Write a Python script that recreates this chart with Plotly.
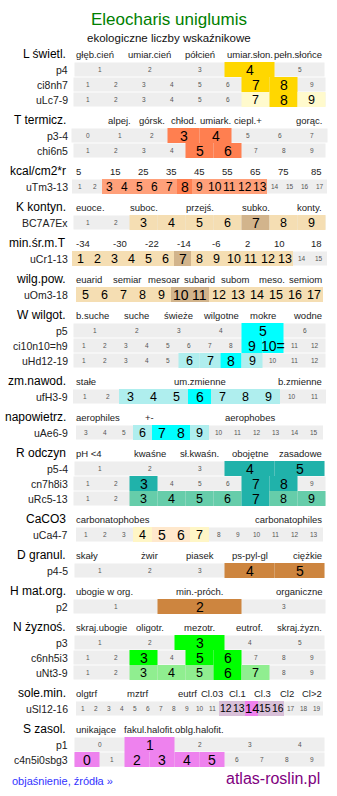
import plotly.graph_objects as go

W, H = 337, 796

title = "Eleocharis uniglumis"
subtitle = "ekologiczne liczby wskaźnikowe"
footer_left = "objaśnienie, źródła »"
footer_right = "atlas-roslin.pl"

# ---- sections: header text, scale labels, slot of each label, number of slots, number of rows
section_titles = ["L świetl.", "T termicz.", "kcal/cm2*r", "K kontyn.", "min.śr.m.T",
                  "wilg.pow.", "W wilgot.", "zm.nawod.", "napowietrz.", "R odczyn",
                  "CaCO3", "D granul.", "H mat.org.", "N żyznoś.", "sole.min.", "S zasol."]
section_scale = [
    ["głęb.cień", "umiar.cień", "półcień", "umiar.słon.", "pełn.słońce"],
    ["alpej.", "górsk.", "chłod.", "umiark.", "ciepl.+", "gorąc."],
    ["5", "15", "25", "35", "45", "55", "65", "75", "85"],
    ["euoce.", "suboc.", "przejś.", "subko.", "konty."],
    ["-34", "-30", "-22", "-14", "-6", "2", "10", "18"],
    ["euarid", "semiar", "mesoar", "subarid", "subom", "meso.", "semiom"],
    ["b.suche", "suche", "świeże", "wilgotne", "mokre", "wodne"],
    ["stałe", "um.zmienne", "b.zmienne"],
    ["aerophiles", "+-", "aerophobes"],
    ["pH <4", "kwaśne", "sł.kwaśn.", "obojętne", "zasadowe"],
    ["carbonatophobes", "carbonatophiles"],
    ["skały", "żwir", "piasek", "ps-pyl-gl", "ciężkie"],
    ["ubogie w org.", "min.-próch.", "organiczne"],
    ["skraj.ubogie", "oligotr.", "mezotr.", "eutrof.", "skraj.żyzn."],
    ["olgtrf", "mztrf", "eutrf", "Cl.03", "Cl.1", "Cl.3", "Cl2", "Cl>2"],
    ["unikające", "fakul.halofit.", "oblg.halofit."],
]
section_scale_slot = [
    [0, 1, 2, 3, 4],
    [1, 2, 3, 4, 5, 7],
    [0, 1, 2, 3, 4, 5, 6, 7, 8],
    [0, 2, 4, 6, 8],
    [0, 1, 2, 3, 4, 5, 6, 7],
    [0, 1, 2, 3, 4, 5, 6],
    [0, 1, 2, 3, 4, 5],
    [0, 1, 2],
    [0, 1, 3],
    [0, 1, 2, 3, 4],
    [0, 1],
    [0, 1, 2, 3, 4],
    [0, 1, 2],
    [0, 1, 2, 3, 4],
    [0, 2, 4, 5, 6, 7, 8, 9],
    [0, 1, 2],
]
section_scale_n = [5, 8, 9, 9, 8, 7, 6, 3, 5, 5, 2, 5, 3, 5, 10, 5]
section_rows = [3, 2, 1, 1, 1, 1, 3, 1, 1, 3, 1, 1, 1, 3, 1, 2]
section_main_color = ["#FFD700", "#FF7F50", "#FF7F50", "#D2B48C", "#D2B48C", "#D2B48C",
                      "#00FFFF", "#00FFFF", "#00FFFF", "#20B2AA", "#FFE8CC", "#CD853F",
                      "#CD853F", "#00FF00", "#EE82EE", "#EE82EE"]
section_side_color = ["#FFFACD", "#FFA07A", "#FFA07A", "#F5DEB3", "#F5DEB3", "#F5DEB3",
                      "#AFEEEE", "#AFEEEE", "#AFEEEE", "#66CDAA", "#FFF6C6", "#CD853F",
                      "#CD853F", "#90EE90", "#D8BFD8", "#D8BFD8"]


def nums(a, b):
    return [str(v) for v in range(a, b + 1)]


# ---- rows
row_names = ["p4", "ci8nh7", "uLc7-9", "p3-4", "chi6n5", "uTm3-13", "BC7A7Ex", "uCr1-13",
             "uOm3-18", "p5", "ci10n10=h9", "uHd12-19", "ufH3-9", "uAe6-9", "p5-4",
             "cn7h8i3", "uRc5-13", "uCa4-7", "p4-5", "p2", "p3", "c6nh5i3", "uNt3-9",
             "uSl12-16", "p1", "c4n5i0sbg3"]
row_cells = [nums(1, 5), nums(1, 9), nums(1, 9), nums(0, 7), nums(1, 9), nums(1, 17),
             nums(1, 9), nums(1, 15), nums(5, 17), nums(1, 6),
             nums(1, 9) + ["10="] + nums(11, 12), nums(1, 12), nums(1, 11), nums(3, 15),
             nums(1, 5), nums(1, 9), nums(1, 9), nums(1, 13), nums(1, 5), nums(1, 3),
             nums(1, 5), nums(1, 9), nums(1, 9), nums(1, 19), nums(0, 4), nums(0, 9)]
row_main = [["4"], ["7", "8"], ["8"], ["3", "4"], ["5", "6"], ["8"], ["7"], ["7"],
            ["10", "11"], ["5"], ["9", "10="], ["8"], ["6"], ["7", "8"], ["4", "5"],
            ["3", "7", "8"], ["7"], ["5", "6"], ["4", "5"], ["2"], ["3"], ["3", "5", "6"],
            ["6"], ["14"], ["1"], ["0", "2", "3", "4", "5"]]
row_side = [[], [], ["7", "9"], [], [], ["3", "4", "5", "6", "7", "9", "10", "11", "12", "13"],
            ["3", "4", "5", "6", "8", "9"],
            ["1", "2", "3", "4", "5", "6", "8", "9", "10", "11", "12", "13"],
            ["5", "6", "7", "8", "9", "12", "13", "14", "15", "16", "17"], [], [],
            ["6", "7", "9"], ["3", "4", "5", "7", "8", "9"], ["6", "9"], [], [],
            ["3", "4", "5", "6", "8", "9"], ["4", "7"], [], [], [], [], ["3", "4", "5", "7"],
            ["12", "13", "15", "16"], [], []]

# ---- layout constants (pixels)
GRID_L, GRID_R = 73.5, 325.5
CENTER = (GRID_L + GRID_R) / 2
FULL = GRID_R - GRID_L
FIRST_HEADER_Y = 54
HEAD_TO_ROW = 15.5
ROW_PITCH = 15
ROW_TO_HEAD = 20.5
FONT = "Liberation Sans, Arial, sans-serif"


def row_span(n):
    cw = round(FULL / n)
    w = cw * n
    return CENTER - w / 2, cw


shapes = []
annotations = []


def text(x, y, s, size, color, xanchor="center"):
    annotations.append(dict(x=x, y=y, xref="x", yref="y", text=s, showarrow=False,
                            xanchor=xanchor, yanchor="middle",
                            font=dict(family=FONT, size=size, color=color)))


def rect(x0, x1, y0, y1, color):
    shapes.append(dict(type="rect", xref="x", yref="y", x0=x0, x1=x1, y0=y0, y1=y1,
                       line=dict(width=0), fillcolor=color, layer="below"))


text(168.5, 19, title, 17, "#008000")
text(168.5, 38, subtitle, 11.5, "#111111")

y = FIRST_HEADER_Y
r = 0
for s, head in enumerate(section_titles):
    text(67.5, y, head, 12, "#000000", "right")
    n = section_scale_n[s]
    x0, cw = row_span(n)
    for lab, slot in zip(section_scale[s], section_scale_slot[s]):
        if slot == 0:
            text(74, y, lab, 9.5, "#222222", "left")
        elif slot == n - 1:
            text(323.5, y, lab, 9.5, "#222222", "right")
        else:
            text(x0 + (slot + 0.5) * cw, y, lab, 9.5, "#222222")
    ry = y + HEAD_TO_ROW
    for k in range(section_rows[s]):
        cells = row_cells[r]
        nc = len(cells)
        cx0, ccw = row_span(nc)
        rect(cx0, cx0 + nc * ccw, ry - 7, ry + 7, "#EEEEEE")
        text(70, ry, row_names[r], 10.5, "#222222", "right")
        for i, lab in enumerate(cells):
            xc = cx0 + (i + 0.5) * ccw
            if lab in row_main[r]:
                rect(cx0 + i * ccw, cx0 + (i + 1) * ccw, ry - 7.5, ry + 7.5, section_main_color[s])
                text(xc, ry, lab, min(14, ccw), "#000000")
            elif lab in row_side[r]:
                rect(cx0 + i * ccw, cx0 + (i + 1) * ccw, ry - 7.5, ry + 7.5, section_side_color[s])
                text(xc, ry, lab, min(12.5, ccw * 0.8), "#000000")
            else:
                text(xc, ry, lab, 6.5, "#555555")
        r += 1
        ry += ROW_PITCH
    y = ry - ROW_PITCH + ROW_TO_HEAD

text(10, 781, footer_left, 11, "#3333FF", "left")
text(322, 778, footer_right, 16, "#800080", "right")

fig = go.Figure()
fig.add_trace(go.Scatter(x=[0, W], y=[0, H], mode="markers", marker=dict(opacity=0),
                         hoverinfo="skip", showlegend=False))
fig.update_layout(width=W, height=H, margin=dict(l=0, r=0, t=0, b=0),
                  paper_bgcolor="white", plot_bgcolor="white",
                  xaxis=dict(range=[0, W], visible=False, fixedrange=True),
                  yaxis=dict(range=[H, 0], visible=False, fixedrange=True),
                  shapes=shapes, annotations=annotations, showlegend=False)
fig.write_html("out.html", config={"displayModeBar": False})
